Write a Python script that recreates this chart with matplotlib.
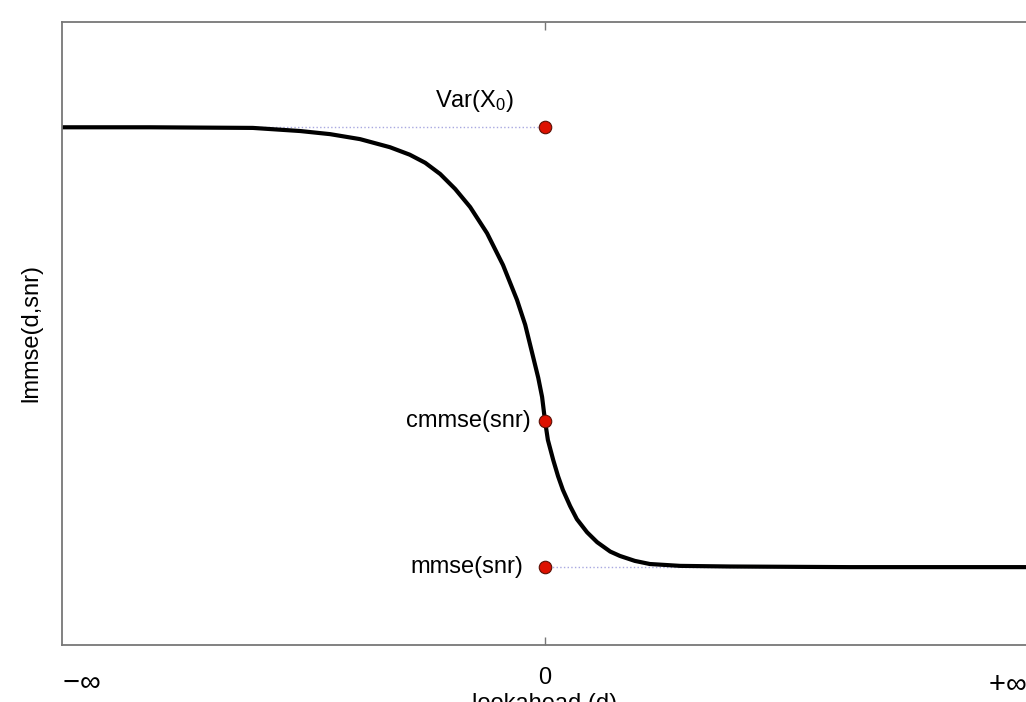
import numpy as np
import matplotlib
matplotlib.use("Agg")
import matplotlib.pyplot as plt

plt.rcParams['font.family'] = ['Liberation Sans', 'DejaVu Sans']
plt.rcParams['mathtext.default'] = 'regular'

# lookahead d (arbitrary units, -10 ~ -inf, +10 ~ +inf) and lmmse(d,snr)
d = [-10.0, -8.18, -6.05, -5.07, -4.45, -3.83, -3.21, -2.80, -2.48, -2.17, -1.86, -1.55,
     -1.20, -0.87, -0.58, -0.41, -0.27, -0.14, -0.06, 0.0, 0.06, 0.17, 0.27, 0.37, 0.52,
     0.66, 0.87, 1.08, 1.35, 1.55, 1.86, 2.17, 2.80, 3.83, 6.31, 10.0]
lmmse = [0.831, 0.831, 0.830, 0.825, 0.820, 0.812, 0.799, 0.787, 0.774, 0.756, 0.732, 0.703,
         0.661, 0.610, 0.554, 0.514, 0.470, 0.429, 0.398, 0.360, 0.329, 0.297, 0.271, 0.249,
         0.223, 0.202, 0.181, 0.165, 0.150, 0.143, 0.135, 0.130, 0.127, 0.126, 0.125, 0.125]

# special points at d = 0
var_x0 = 0.831
cmmse = 0.360
mmse = 0.125

fig = plt.figure(figsize=(10.26, 7.02), dpi=100)
ax = fig.add_axes([62/1026, 57/702, 966/1026, 623/702])

# dotted guide lines
ax.plot([-10, 0], [var_x0, var_x0], ':', color='#a8a8e0', lw=1.0, zorder=1)
ax.plot([0, 10], [mmse, mmse], ':', color='#a8a8e0', lw=1.0, zorder=1)

# main curve
ax.plot(d, lmmse, color='black', lw=3, zorder=2, solid_joinstyle='round')

# markers
ax.plot([0, 0, 0], [var_x0, cmmse, mmse], 'o', ms=9, mfc='#dd1100', mec='#5a1005',
        mew=0.8, zorder=3)

ax.text(-1.45, var_x0 + 0.022, 'Var(X$_0$)', fontsize=17, ha='center', va='bottom')
ax.text(-0.3, cmmse, 'cmmse(snr)', fontsize=17, ha='right', va='center')
ax.text(-0.45, mmse, 'mmse(snr)', fontsize=17, ha='right', va='center')

ax.set_xlim(-10, 10)
ax.set_ylim(0, 1)
ax.set_yticks([])
ax.set_xticks([0])
ax.set_xticklabels(['0'], fontsize=17)
ax.tick_params(axis='x', direction='in', length=6, width=1, color='#777777',
               top=True, pad=16)
for s in ax.spines.values():
    s.set_color('#777777')
    s.set_linewidth(1.3)

ax.text(-10, -0.058, '$-\\infty$', fontsize=21, ha='left', va='center',
        transform=ax.get_xaxis_transform())
ax.text(9.17, -0.061, '$+\\infty$', fontsize=21, ha='left', va='center',
        transform=ax.get_xaxis_transform())

ax.set_xlabel('lookahead (d)', fontsize=17, labelpad=3)
ax.set_ylabel('lmmse(d,snr)', fontsize=17, labelpad=14)

fig.savefig('out.png', dpi=100)
